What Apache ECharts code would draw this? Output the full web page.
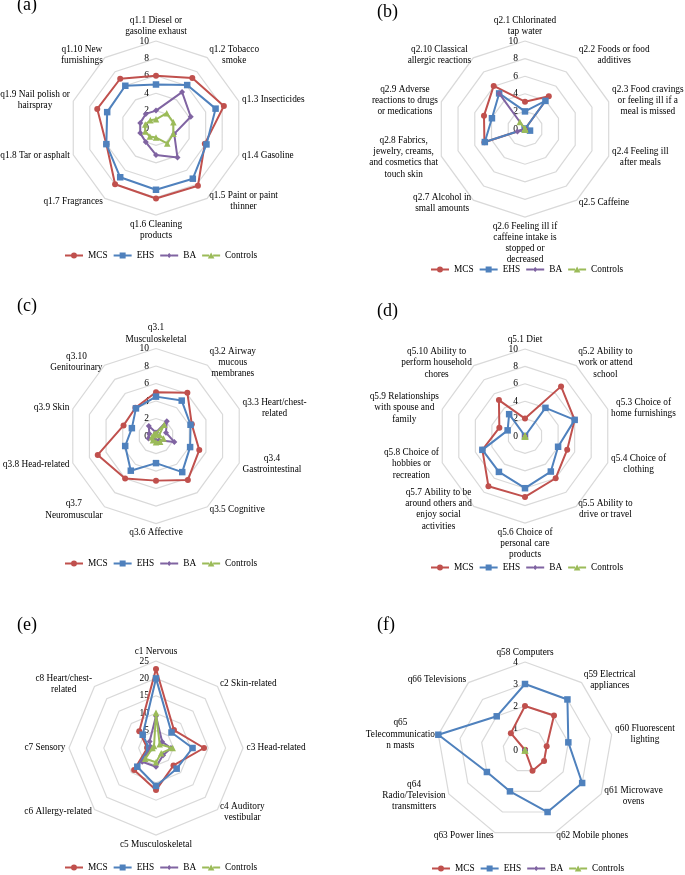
<!DOCTYPE html>
<html>
<head>
<meta charset="utf-8">
<script src="https://cdn.jsdelivr.net/npm/echarts@6/dist/echarts.min.js"></script>
<style>
html,body{margin:0;padding:0;background:#fff;}
#chart{width:685px;height:875px;}
</style>
</head>
<body>
<div id="chart"></div>
<script>
// ---------- data ----------
const groups = ['MCS', 'EHS', 'BA', 'Controls'];

const aLabels = ['q1.1 Diesel or\ngasoline exhaust', 'q1.2 Tobacco\nsmoke', 'q1.3 Insecticides', 'q1.4 Gasoline',
  'q1.5 Paint or paint\nthinner', 'q1.6 Cleaning\nproducts', 'q1.7 Fragrances', 'q1.8 Tar or asphalt',
  'q1.9 Nail polish or\nhairspray', 'q1.10 New\nfurnishings'];
const aMCS  = [6.0, 7.1, 8.2, 5.9, 8.2, 8.1, 8.0, 6.0, 7.1, 7.0];
const aEHS  = [5.0, 6.1, 7.2, 6.1, 7.2, 7.1, 7.0, 6.0, 5.9, 6.0];
const aBA   = [2.0, 5.1, 4.2, 2.2, 4.2, 3.1, 2.0, 1.9, 1.9, 2.0];
const aCtrl = [1.0, 2.1, 2.1, 2.1, 2.2, 1.1, 1.2, 1.3, 1.3, 1.1];

const bLabels = ['q2.1 Chlorinated\ntap water', 'q2.2 Foods or food\nadditives',
  'q2.3 Food cravings\nor feeling ill if a\nmeal is missed', 'q2.4 Feeling ill\nafter meals', 'q2.5 Caffeine',
  'q2.6 Feeling ill if\ncaffeine intake is\nstopped or\ndecreased', 'q2.7 Alcohol in\nsmall amounts',
  'q2.8 Fabrics,\njewelry, creams,\nand cosmetics that\ntouch skin', 'q2.9 Adverse\nreactions to drugs\nor medications',
  'q2.10 Classical\nallergic reactions'];
const bMCS  = [3.1, 4.6, 0, 0, 0, 0, 0, 4.85, 4.9, 6.05];
const bEHS  = [2.0, 3.95, 0, 0.6, 0, 0, 0, 4.8, 3.95, 5.0];
const bBA   = [0, 0, 0, 0, 0, 0, 0, 0.9, 0, 5.0];
const bCtrl = [0, 0, 0, 0, 0, 0, 0, 0, 0, 1.0];

const cLabels = ['q3.1\nMusculoskeletal', 'q3.2 Airway\nmucous\nmembranes', 'q3.3 Heart/chest-\nrelated',
  'q3.4\nGastrointestinal', 'q3.5 Cognitive', 'q3.6 Affective', 'q3.7\nNeuromuscular', 'q3.8 Head-related',
  'q3.9 Skin', 'q3.10\nGenitourinary'];
const cMCS  = [5.0, 6.1, 4.3, 5.2, 6.2, 5.1, 6.0, 7.0, 3.9, 4.0];
const cEHS  = [4.5, 5.0, 4.15, 4.1, 5.1, 3.1, 4.9, 3.7, 2.9, 3.9];
const cBA   = [0.4, 2.1, 1.2, 2.2, 0.6, 0.5, 0.5, 0.9, 0.8, 1.4];
const cCtrl = [0.3, 1.6, 0.4, 0.9, 0.8, 0.7, 0.6, 0.5, 0.3, 0.3];

const dLabels = ['q5.1 Diet', 'q5.2 Ability to\nwork or attend\nschool', 'q5.3 Choice of\nhome furnishings',
  'q5.4 Choice of\nclothing', 'q5.5 Ability to\ndrive or travel', 'q5.6 Choice of\npersonal care\nproducts',
  'q5.7 Ability to be\naround others and\nenjoy social\nactivities', 'q5.8 Choice of\nhobbies or\nrecreation',
  'q5.9 Relationships\nwith spouse and\nfamily', 'q5.10 Ability to\nperform household\nchores'];
const dMCS  = [2.0, 7.05, 6.0, 5.1, 6.0, 7.0, 7.15, 5.15, 3.1, 5.1];
const dEHS  = [0, 4.0, 6.0, 4.0, 5.05, 6.0, 5.1, 5.15, 2.1, 3.1];
const dBA   = [0, 0, 0, 0, 0, 0, 0, 0, 0, 0];
const dCtrl = [0, 0, 0, 0, 0, 0, 0, 0, 0, 0];

const eLabels = ['c1 Nervous', 'c2 Skin-related', 'c3 Head-related', 'c4 Auditory\nvestibular',
  'c5 Musculoskeletal', 'c6 Allergy-related', 'c7 Sensory', 'c8 Heart/chest-\nrelated'];
const eMCS  = [22.7, 7.3, 13.8, 7.1, 12.1, 8.9, 2.5, 6.8];
const eEHS  = [20.0, 6.3, 10.5, 8.4, 10.9, 7.6, 2.0, 5.4];
const eBA   = [9.2, 2.5, 4.3, 2.9, 5.4, 5.6, 1.5, 2.6];
const eCtrl = [10.1, 1.5, 4.8, 2.1, 4.1, 4.4, 1.0, 0.8];

const fLabels = ['q58 Computers', 'q59 Electrical\nappliances', 'q60 Fluorescent\nlighting', 'q61 Microwave\novens',
  'q62 Mobile phones', 'q63 Power lines', 'q64\nRadio/Television\ntransmitters', 'q65\nTelecommunicatio\nn masts',
  'q66 Televisions'];
const fMCS  = [2.0, 2.05, 1.0, 1.0, 1.0, 0, 0, 0, 1.0];
const fEHS  = [3.0, 3.0, 2.0, 3.0, 3.0, 2.0, 2.0, 4.0, 2.0];
const fBA   = [0, 0, 0, 0, 0, 0, 0, 0, 0];
const fCtrl = [0, 0, 0, 0, 0, 0, 0, 0, 0];

const panelTitles = ['(a)', '(b)', '(c)', '(d)', '(e)', '(f)'];
const axisMax = [10, 10, 10, 10, 25, 4];
const axisSplit = [5, 5, 5, 5, 5, 4];

// ---------- layout / style ----------
const FONT = 'Liberation Serif';
const colors = {MCS: '#C0504D', EHS: '#4F81BD', BA: '#8064A2', Controls: '#9BBB59'};
const symbols = {MCS: 'circle', EHS: 'rect', BA: 'diamond', Controls: 'triangle'};
const symSize = {MCS: 6, EHS: 6.5, BA: 6, Controls: 6.5};
// legend icons: short line with the series marker in the middle (18 x 6 box)
const LINE = 'M0,2 L7,2 L7,4 L0,4 Z M11,2 L18,2 L18,4 L11,4 Z ';
const legendIcons = {
  MCS: 'path://' + LINE + 'M9,0 A3,3 0 1 1 8.99,0 Z',
  EHS: 'path://' + LINE + 'M6,0 L12,0 L12,6 L6,6 Z',
  BA: 'path://' + LINE + 'M9,0.5 L11.5,3 L9,5.5 L6.5,3 Z M0,0 L0,0 Z M18,6 L18,6 Z',
  Controls: 'path://' + LINE + 'M9,0 L12.3,6 L5.7,6 Z'
};

const panels = [
  {labels: aLabels, vals: [aMCS, aEHS, aBA, aCtrl], c: [156, 128], r: 87, tx: 17, ty: -4, lx: 65, ly: 257},
  {labels: bLabels, vals: [bMCS, bEHS, bBA, bCtrl], c: [525, 129], r: 88, tx: 377, ty: 3, lx: 431, ly: 271},
  {labels: cLabels, vals: [cMCS, cEHS, cBA, cCtrl], c: [156, 436], r: 87.5, tx: 17, ty: 297, lx: 65, ly: 565},
  {labels: dLabels, vals: [dMCS, dEHS, dBA, dCtrl], c: [525, 436], r: 87, tx: 377, ty: 302, lx: 431, ly: 569},
  {labels: eLabels, vals: [eMCS, eEHS, eBA, eCtrl], c: [156, 748], r: 87, tx: 17, ty: 616, lx: 65, ly: 869},
  {labels: fLabels, vals: [fMCS, fEHS, fBA, fCtrl], c: [525, 750], r: 88, tx: 377, ty: 616, lx: 432, ly: 870}
];

// ECharts radar runs counter-clockwise; reorder so the first item stays on top and the rest go clockwise
function cw(arr) { return [arr[0]].concat(arr.slice(1).reverse()); }

const nameFmt = function (name) {
  return name.split('\n').map(function (l) { return '{c|' + l + '}'; }).join('\n');
};

const radar = [], polar = [], radiusAxis = [], angleAxis = [], series = [], title = [], legend = [];
panels.forEach(function (p, i) {
  radar.push({
    center: p.c, radius: p.r, startAngle: 90, shape: 'polygon', splitNumber: axisSplit[i],
    indicator: cw(p.labels).map(function (n) { return {name: n, min: 0, max: axisMax[i]}; }),
    nameGap: 3.5,
    axisName: {
      color: '#000', fontFamily: FONT, fontSize: 9.3, lineHeight: 11.3,
      formatter: nameFmt,
      rich: {c: {align: 'center', color: '#000', fontFamily: FONT, fontSize: 9.3, lineHeight: 11.3}}
    },
    axisLine: {show: false},
    axisTick: {show: false},
    axisLabel: {show: false},
    splitLine: {lineStyle: {color: '#D9D9D9', width: 1.2}},
    splitArea: {show: false}
  });
  polar.push({center: p.c, radius: p.r});
  angleAxis.push({polarIndex: i, type: 'value', min: 0, max: 360, startAngle: 90, show: false});
  radiusAxis.push({
    polarIndex: i, type: 'value', min: 0, max: axisMax[i], interval: axisMax[i] / axisSplit[i],
    axisLine: {show: false}, axisTick: {show: false}, splitLine: {show: false},
    axisLabel: {show: true, margin: 7, color: '#000', fontFamily: FONT, fontSize: 9.5}
  });
  groups.forEach(function (g, k) {
    series.push({
      type: 'radar', radarIndex: i, name: g,
      symbol: symbols[g], symbolSize: symSize[g],
      lineStyle: {color: colors[g], width: 2},
      itemStyle: {color: colors[g]},
      z: 2 + k,
      data: [{name: g, value: cw(p.vals[k])}]
    });
  });
  title.push({
    text: panelTitles[i], left: p.tx, top: p.ty, padding: 0,
    textStyle: {fontFamily: FONT, fontSize: 18, fontWeight: 'normal', color: '#000'}
  });
  legend.push({
    data: groups.map(function (g) { return {name: g, icon: legendIcons[g], itemStyle: {color: colors[g]}}; }),
    left: p.lx, top: p.ly - 6, padding: 0,
    itemWidth: 18, itemHeight: 6, itemGap: 6, selectedMode: false,
    textStyle: {fontFamily: FONT, fontSize: 9.3, color: '#000'}
  });
});

const chart = echarts.init(document.getElementById('chart'), null, {renderer: 'canvas'});
chart.setOption({
  animation: false,
  backgroundColor: '#fff',
  title: title,
  legend: legend,
  radar: radar,
  polar: polar,
  angleAxis: angleAxis,
  radiusAxis: radiusAxis,
  series: series
});
</script>
</body>
</html>
